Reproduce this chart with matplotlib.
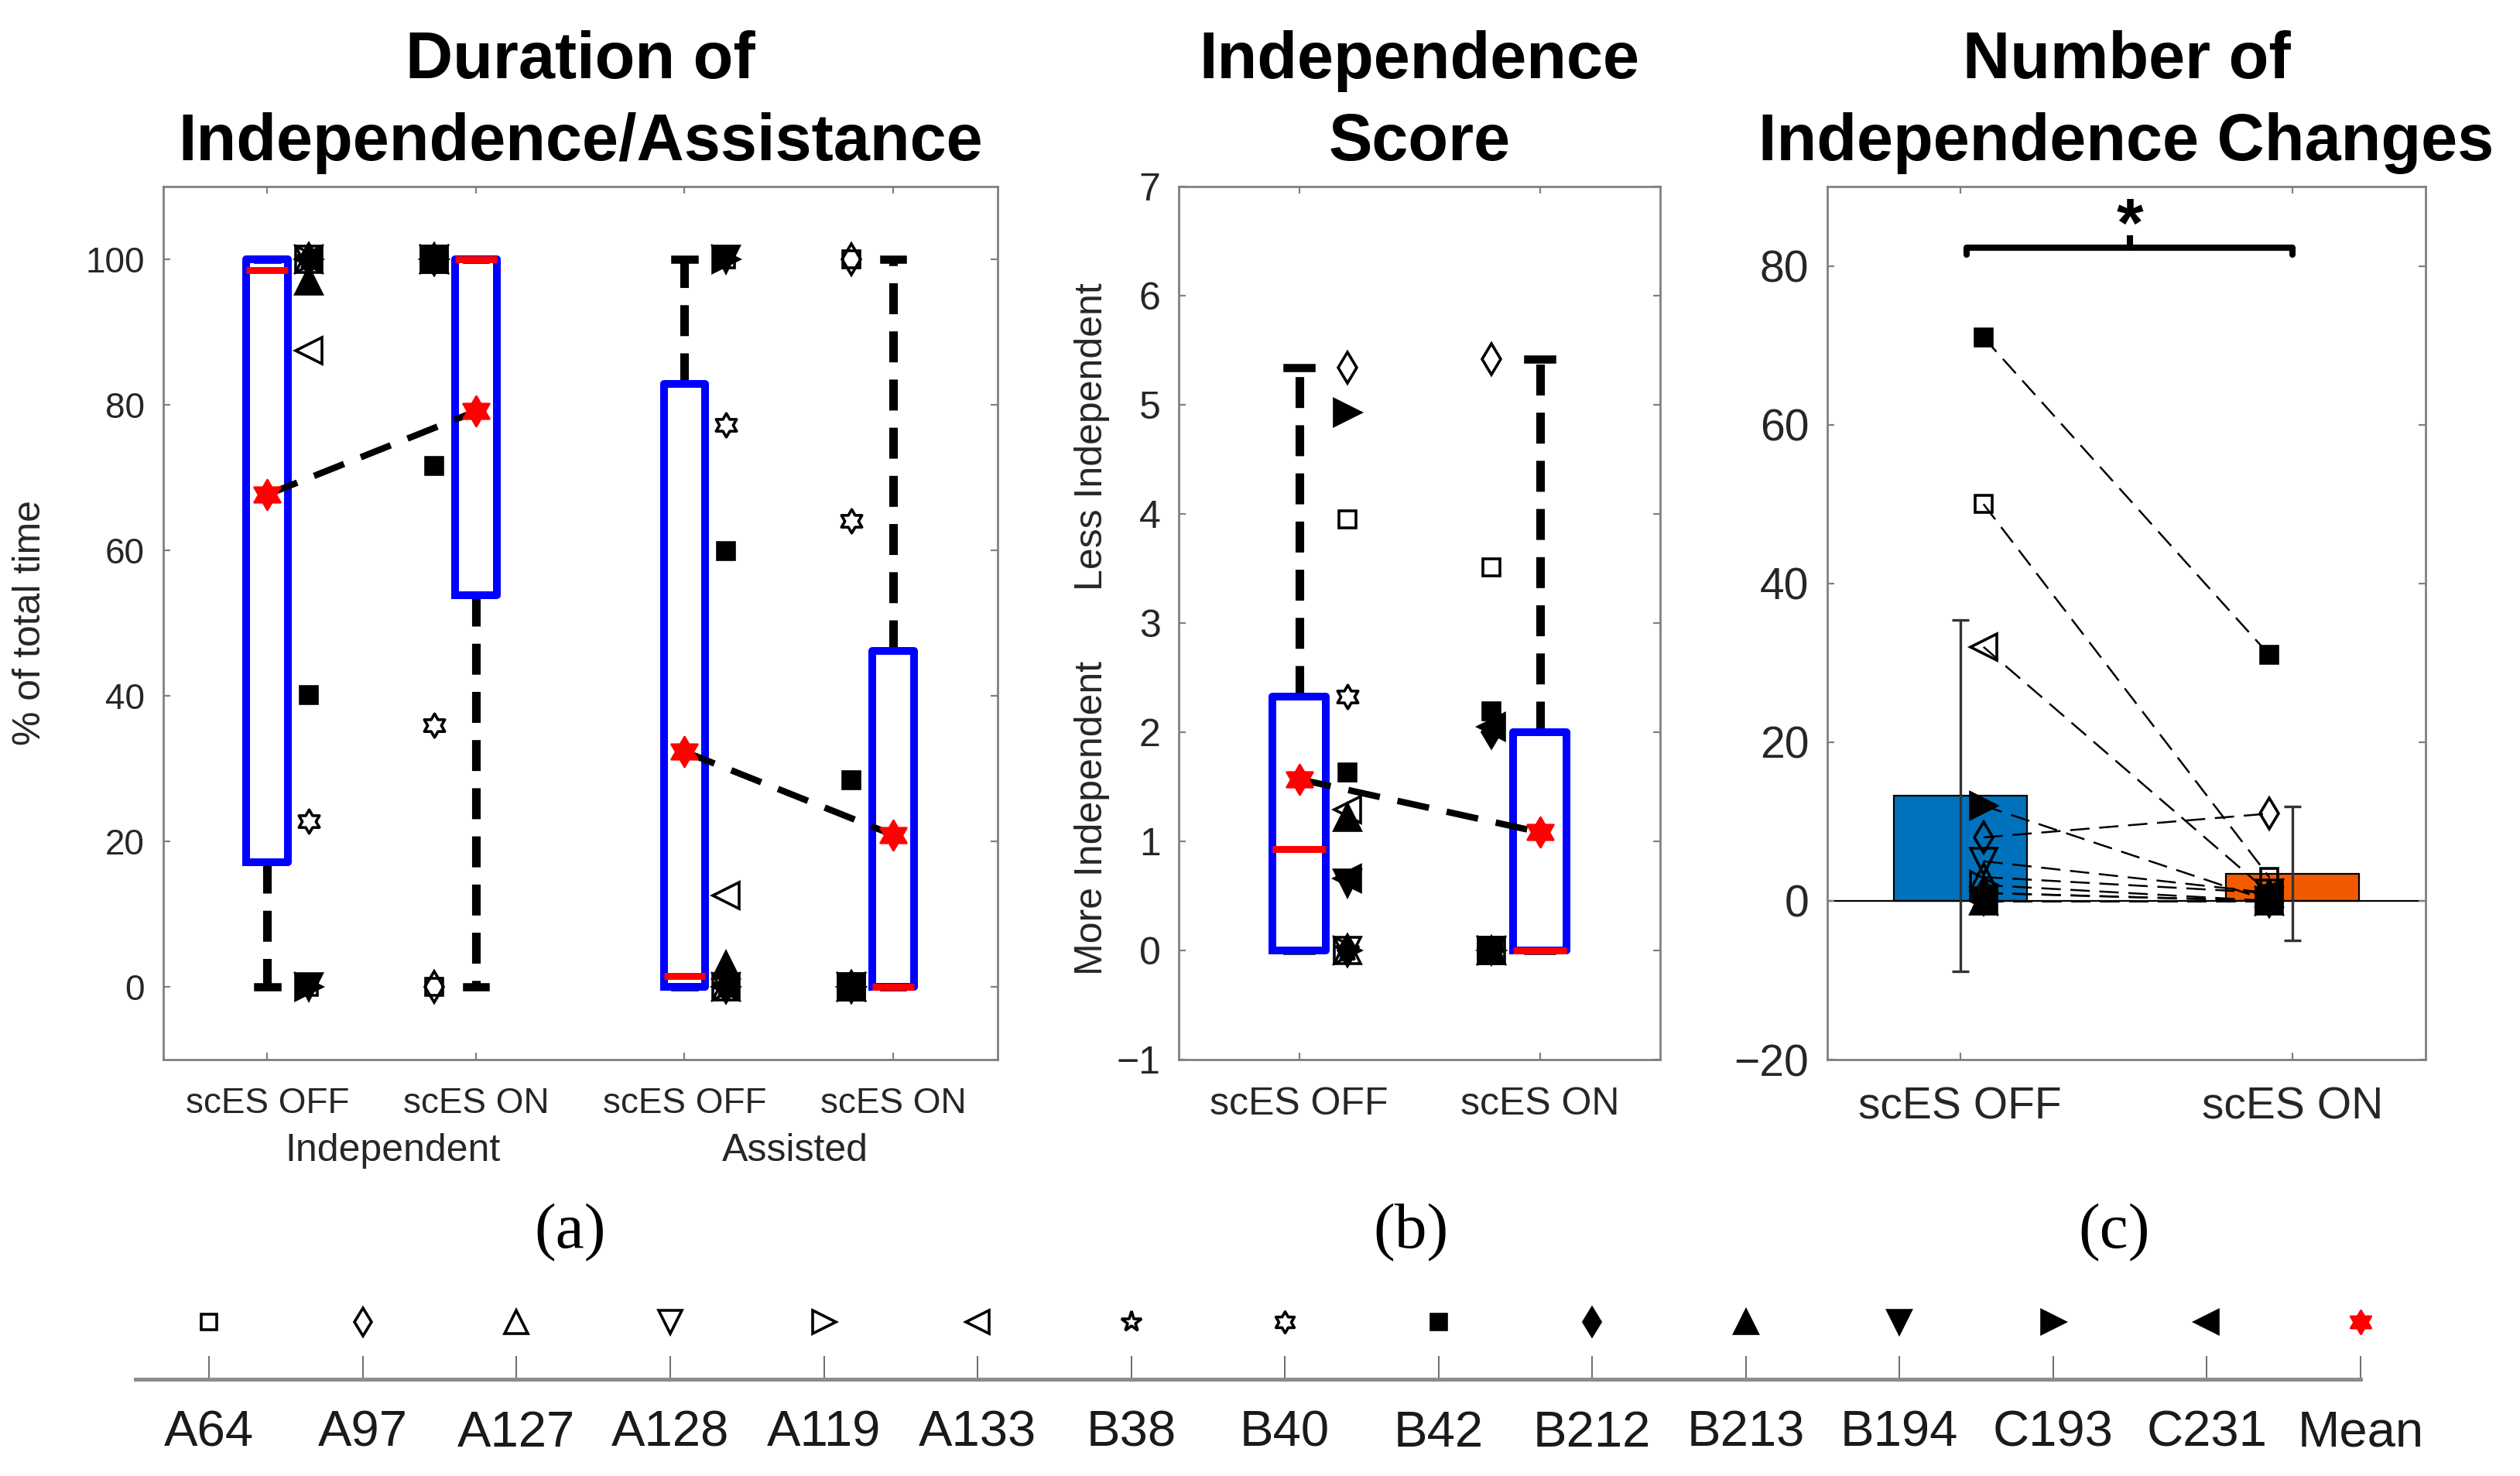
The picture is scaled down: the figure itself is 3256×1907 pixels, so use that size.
import numpy as np
import matplotlib
matplotlib.use("Agg")
from matplotlib import pyplot as plt
from matplotlib.path import Path

plt.rcParams['font.family'] = ['Liberation Sans', 'DejaVu Sans']

# ---- data ----
subjects = ['A64', 'A97', 'A127', 'A128', 'A119', 'A133', 'B38', 'B40',
            'B42', 'B212', 'B213', 'B194', 'C193', 'C231']
subj_marker = ['s', 'd', '^', 'v', '>', '<', '*', 'hex',
               's', 'd', '^', 'v', '>', '<']
subj_filled = [False, False, False, False, False, False, False, False,
               True, True, True, True, True, True]

# (a) % of total time, per subject
indep_off = [0, 100, 100, 100, 100, 87.4, 100, 22.8, 40.1, 100, 97, 0, 0, 100]
indep_on = [0, 0, 100, 100, 100, 100, 100, 36.0, 71.6, 100, 100, 100, 100, 100]
assist_off = [100, 0, 0, 0, 0, 12.6, 0, 77.2, 59.9, 0, 3, 100, 100, 0]
assist_on = [100, 100, 0, 0, 0, 0, 0, 64.0, 28.4, 0, 0, 0, 0, 0]
dur_ticklabels = ['scES OFF', 'scES ON', 'scES OFF', 'scES ON']
dur_groups = ['Independent', 'Assisted']
# box summaries as drawn
dur_q1 = [17.1, 53.8, 0, 0]
dur_med = [98.5, 100, 1.5, 0]
dur_q3 = [100, 100, 82.9, 46.2]
dur_lo = [0, 0, 0, 0]
dur_hi = [100, 100, 100, 100]

# (b) independence score, per subject
score_off = [3.95, 5.34, 0, 0, 0, 1.29, 0, 2.33, 1.63, 0, 1.22, 0.62, 4.93, 0.66]
score_on = [3.51, 5.42, 0, 0, 0, 0, 0, 0, 2.19, 2.0, 0, 0, 0, 2.05]
score_q1 = [0, 0]
score_med = [0.93, 0]
score_q3 = [2.33, 2.0]
score_lo = [0, 0]
score_hi = [5.34, 5.42]

# (c) number of independence changes, per subject
changes_off = [50, 8, 3, 5, 2, 32, 1, 0, 71, 1, 0, 0, 12, 0]
changes_on = [3, 11, 1, 1, 0, 1, 0, 0, 31, 0, 0, 0, 0, 0]
cond_labels = ['scES OFF', 'scES ON']
sig_text = '*'
sig_level = 82.3

# ---- styles ----
HEXAGRAM = Path.unit_regular_star(6, innerCircle=1 / np.sqrt(3))
MSIZE = {'s': 8, 'd': 10, '^': 12, 'v': 12, '>': 12, '<': 12, '*': 11, 'hex': 11}
SPINE = '#808080'
TXT = '#262626'
BAR_COLORS = ['#0072BD', '#F25A00']


def mk(m):
    return HEXAGRAM if m == 'hex' else m


def draw_subject(ax, x, y, i, scale=1.0, clip=True):
    m = subj_marker[i]
    ax.plot(x, y, linestyle='none', marker=mk(m), ms=MSIZE[m] * scale,
            mec='k', mfc='k' if subj_filled[i] else 'none', mew=1.3,
            zorder=4, clip_on=clip)


def style_axes(ax, labelsize, xpad):
    for s in ax.spines.values():
        s.set_color(SPINE)
        s.set_linewidth(1.0)
    ax.tick_params(direction='in', top=True, right=True, length=3.4, width=0.8,
                   color=SPINE, labelcolor=TXT, labelsize=labelsize)
    ax.tick_params(axis='x', pad=xpad)
    ax.tick_params(axis='y', pad=8.5)


def draw_boxes(ax, q1, med, q3, lo, hi, pos, width, capw):
    stats = []
    for a, b, c, d, e in zip(q1, med, q3, lo, hi):
        stats.append(dict(q1=a, med=b, q3=c, whislo=d, whishi=e, fliers=[]))
    ax.bxp(stats, positions=pos, widths=width, capwidths=capw,
           showfliers=False, manage_ticks=False,
           boxprops=dict(color='blue', linewidth=3.6, zorder=2),
           medianprops=dict(color='red', linewidth=3.2, zorder=2.5),
           whiskerprops=dict(color='k', linewidth=4, linestyle=(0, (3.6, 2.0)), zorder=1.5),
           capprops=dict(color='k', linewidth=3.8, zorder=1.4))


def title(ax, text):
    ax.text(0.5, 1.014, text, transform=ax.transAxes, ha='center', va='bottom',
            fontsize=30.5, fontweight='bold', linespacing=1.43)


fig = plt.figure(figsize=(16.28, 9.535), dpi=200)

# ---- (a) ----
ax = fig.add_axes([0.0647, 0.2821, 0.3311, 0.5915])
pos_a = [1, 2, 3, 4]
side_a = [0.2, -0.2, 0.2, -0.2]
series_a = [indep_off, indep_on, assist_off, assist_on]
draw_boxes(ax, dur_q1, dur_med, dur_q3, dur_lo, dur_hi, pos_a, 0.2, 0.09)
for p, sd, vals in zip(pos_a, side_a, series_a):
    for i, v in enumerate(vals):
        draw_subject(ax, p + sd, v, i)
means_a = [np.mean(v) for v in series_a]
ax.plot(pos_a[:2], means_a[:2], color='k', lw=3, dashes=(5, 2.8), zorder=3)
ax.plot(pos_a[2:], means_a[2:], color='k', lw=3, dashes=(5, 2.8), zorder=3)
ax.plot(pos_a, means_a, linestyle='none', marker=HEXAGRAM, ms=14, color='red', zorder=5)
ax.set_xlim(0.5, 4.5)
ax.set_ylim(-10, 110)
ax.set_yticks(np.arange(0, 101, 20))
ax.set_xticks(pos_a)
ax.set_xticklabels(dur_ticklabels)
style_axes(ax, 16.5, 12.5)
ax.set_ylabel('% of total time', fontsize=18, color=TXT)
ax.yaxis.set_label_coords(-0.138, 0.5)
for gx, g in zip([1.6, 3.53], dur_groups):
    ax.text(gx, -0.1046, g, transform=ax.get_xaxis_transform(), ha='center',
            va='center', fontsize=18, color=TXT)
title(ax, 'Duration of\nIndependence/Assistance')

# ---- (b) ----
ax = fig.add_axes([0.4678, 0.2821, 0.1910, 0.5915])
pos_b = [1, 2]
side_b = [0.2, -0.2]
series_b = [score_off, score_on]
draw_boxes(ax, score_q1, score_med, score_q3, score_lo, score_hi, pos_b, 0.22, 0.1)
for p, sd, vals in zip(pos_b, side_b, series_b):
    for i, v in enumerate(vals):
        draw_subject(ax, p + sd, v, i)
means_b = [np.mean(v) for v in series_b]
ax.plot(pos_b, means_b, color='k', lw=3, dashes=(5, 2.8), zorder=3)
ax.plot(pos_b, means_b, linestyle='none', marker=HEXAGRAM, ms=14, color='red', zorder=5)
ax.set_xlim(0.5, 2.5)
ax.set_ylim(-1, 7)
ax.set_yticks(np.arange(-1, 8, 1))
ax.set_xticks(pos_b)
ax.set_xticklabels(cond_labels)
style_axes(ax, 18, 12.5)
ax.text(-0.18, 1.21, 'More Independent', transform=ax.get_yaxis_transform(),
        rotation=90, ha='center', va='center', fontsize=18, color=TXT)
ax.text(-0.18, 4.71, 'Less Independent', transform=ax.get_yaxis_transform(),
        rotation=90, ha='center', va='center', fontsize=18, color=TXT)
title(ax, 'Independence\nScore')

# ---- (c) ----
ax = fig.add_axes([0.7251, 0.2821, 0.2374, 0.5915])
pos_c = [1, 2]
series_c = [changes_off, changes_on]
means_c = [np.mean(v) for v in series_c]
sds_c = [np.std(v, ddof=1) for v in series_c]
ax.bar(pos_c, means_c, width=0.4, color=BAR_COLORS, edgecolor='k', linewidth=0.8, zorder=1)
ax.axhline(0, color='k', lw=0.8, zorder=1.2)
ax.errorbar(pos_c, means_c, yerr=sds_c, fmt='none', ecolor='#333333',
            elinewidth=1.2, capsize=4, capthick=1.2, zorder=2)
for i in range(len(subjects)):
    ax.plot([pos_c[0] + 0.07, pos_c[1] - 0.07], [changes_off[i], changes_on[i]],
            color='k', lw=0.9, dashes=(10, 5), zorder=3)
for p, sd, vals in zip(pos_c, [0.07, -0.07], series_c):
    for i, v in enumerate(vals):
        draw_subject(ax, p + sd, v, i, scale=1.0)
# significance bracket
bx0, bx1 = pos_c[0] + 0.02, pos_c[1]
ax.plot([bx0, bx0, bx1, bx1], [sig_level - 0.9, sig_level, sig_level, sig_level - 0.9],
        color='k', lw=2.9, solid_joinstyle='round', solid_capstyle='round')
bmid = (bx0 + bx1) / 2
ax.plot([bmid, bmid], [sig_level, sig_level + 1.2], color='k', lw=2.9)
ax.text(bmid, sig_level + 0.2, sig_text, ha='center', va='baseline',
        fontsize=32, fontweight='bold')
ax.set_xlim(0.6, 2.4)
ax.set_ylim(-20, 90)
ax.set_yticks(np.arange(-20, 81, 20))
ax.set_xticks(pos_c)
ax.set_xticklabels(cond_labels)
style_axes(ax, 20.5, 12.5)
title(ax, 'Number of\nIndependence Changes')

# panel letters
for x, lab in zip([0.2263, 0.5600, 0.8390], ['(a)', '(b)', '(c)']):
    fig.text(x, 0.1647, lab, family='Liberation Serif', fontsize=30,
             ha='center', va='center')

# ---- legend strip ----
axl = fig.add_axes([0.0539, 0.0657, 0.8828, 0.06])
axl.patch.set_visible(False)
for s in ['top', 'left', 'right']:
    axl.spines[s].set_visible(False)
axl.spines['bottom'].set_color('#8c8c8c')
axl.spines['bottom'].set_linewidth(1.8)
leg_x = np.arange(1, len(subjects) + 2)
axl.set_xlim(0.522, leg_x[-1])
axl.set_ylim(0, 1)
axl.set_yticks([])
axl.set_xticks(leg_x)
axl.set_xticklabels(subjects + ['Mean'])
axl.tick_params(axis='x', direction='in', length=10.8, width=0.6, color='#555555',
                labelsize=23.5, pad=14.5, labelcolor='#1a1a1a')
for i in range(len(subjects)):
    draw_subject(axl, leg_x[i], 0.64, i, scale=0.9, clip=False)
axl.plot(leg_x[-1], 0.64, marker=HEXAGRAM, ms=11, color='red', linestyle='none',
         clip_on=False)

fig.savefig('out.png', dpi=200)
